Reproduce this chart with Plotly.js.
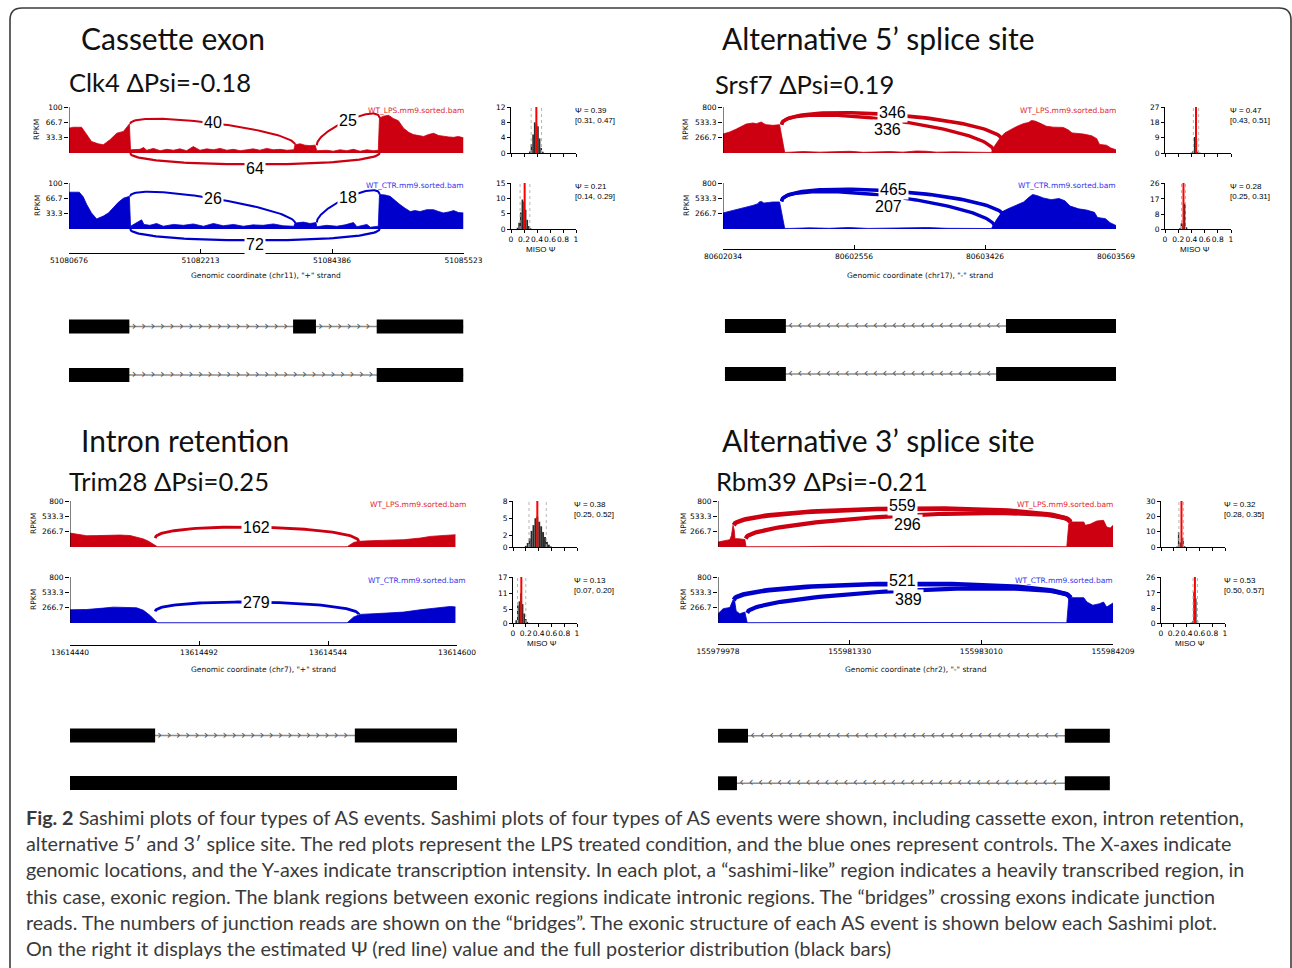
<!DOCTYPE html>
<html><head><meta charset="utf-8">
<script src="https://cdn.plot.ly/plotly-3.0.1.min.js"></script>
<style>html,body{margin:0;padding:0;background:#fff;}#chart{width:1292px;height:968px;}</style>
</head><body><div id="chart"></div>
<script>
// ---------------- DATA ----------------
const eventTypes = ["Cassette exon", "Alternative 5\u2019 splice site", "Intron retention", "Alternative 3\u2019 splice site"];
const geneNames = ["Clk4", "Srsf7", "Trim28", "Rbm39"];
const deltaPsi = ["-0.18", "0.19", "0.25", "-0.21"];
const strands = ["+", "-", "+", "-"];
const chroms = ["chr11", "chr17", "chr7", "chr2"];
const coordTicks = [
  ["51080676", "51082213", "51084386", "51085523"],
  ["80602034", "80602556", "80603426", "80603569"],
  ["13614440", "13614492", "13614544", "13614600"],
  ["155979978", "155981330", "155983010", "155984209"]
];
const rpkmMax = [100, 800, 800, 800];
const rpkmTickText = [["33.3", "66.7", "100"], ["266.7", "533.3", "800"], ["266.7", "533.3", "800"], ["266.7", "533.3", "800"]];
const bamNames = ["WT_LPS.mm9.sorted.bam", "WT_CTR.mm9.sorted.bam"];

// coverage (x in plot units 0-100, y in RPKM)
const A_lps_covX = [0,1.1,3.2,4.5,5.7,7.4,8.7,10.4,12.1,13.8,15.3,15.6,18.0,18.9,19.7,21.4,23.1,24.8,26.5,28.1,29.8,31.5,33.2,34.9,36.6,38.3,40.0,41.7,43.4,45.1,46.7,48.4,50.1,51.8,53.5,55.2,57.0,57.3,58.6,59.8,61.1,62.4,62.8,65.3,67.0,68.7,70.4,72.1,73.8,75.5,77.2,78.4,78.7,79.7,81.0,82.2,83.5,84.8,86.1,87.3,88.6,89.9,91.1,92.4,93.7,94.9,96.2,97.5,98.7,100];
const A_lps_covY = [54,56,56,40,25,20,18,29,43,47,63,7,8,12,6,10,5,8,6,9,5,14,6,9,7,10,6,8,5,7,9,6,10,7,8,6,7,18,20,17,16,17,5,6,4,7,5,8,4,7,5,6,76,80,82,75,70,54,45,40,38,36,40,43,38,36,35,34,36,33];
const A_ctr_covX = [0,2.6,3.6,4.5,5.7,7.0,8.7,10.0,11.2,12.5,13.8,15.3,15.6,18.4,19.0,20.5,22.2,23.9,26.5,29.0,31.5,34.1,36.6,39.1,41.7,44.2,46.7,49.2,51.8,54.3,57.0,57.3,59.4,61.1,62.6,62.8,65.3,67.9,70.0,72.1,73.0,75.5,76.4,78.4,78.7,80.1,81.4,82.6,83.9,85.2,86.5,87.7,89.0,90.7,92.4,93.7,94.9,96.2,97.5,98.7,100];
const A_ctr_covY = [80,80,70,53,35,22,28,35,46,58,67,71,6,20,10,8,12,6,10,8,11,6,12,7,10,6,9,8,11,7,6,13,15,12,14,5,8,6,9,14,5,10,4,6,75,74,71,62,53,45,38,40,38,42,42,38,35,37,40,36,35];
const B_lps_covX = [0,1.7,3.4,4.7,5.9,7.6,8.5,9.2,9.8,10.4,11.0,12.7,14.4,15.7,17.0,20.4,24.6,28.9,32.3,35.7,39.0,42.4,45.8,49.2,51.8,54.3,58.6,62.8,66.2,68.3,69.1,70.5,71.7,73.0,74.7,76.4,77.7,78.5,79.4,80.6,82.3,84.0,86.6,87.9,88.8,91.7,93.8,95.1,95.8,97.6,98.6,100];
const B_lps_covY = [330,365,417,460,504,522,510,528,539,510,493,481,493,10,15,25,15,20,30,12,18,25,15,35,30,15,20,12,18,10,120,260,350,400,460,510,530,565,555,520,465,450,445,400,350,330,300,250,150,135,90,55];
const B_ctr_covX = [0,2.5,5.9,7.6,8.9,9.2,9.8,10.4,11.5,12.7,14.4,15.7,17.0,22.0,27.0,32.0,37.0,42.0,48.5,52.0,57.0,62.0,66.0,68.3,69.5,71.0,72.5,74.5,76.5,78.0,78.8,80.0,81.5,83.5,85.5,87.0,88.3,90.5,92.5,94.5,95.3,97.3,98.5,100];
const B_ctr_covY = [280,320,380,410,440,470,480,450,460,470,470,10,10,20,12,25,10,15,30,25,12,15,10,8,150,300,350,410,470,560,600,580,540,510,530,490,400,350,330,290,200,180,110,60];
const C_lps_covX = [0,1.7,4.3,6.9,9.5,12.9,15.5,17.7,19.0,20.3,21.6,22.6,30,40,50,60,70,71.6,73.3,74.6,77.6,81.9,86.2,90.5,93.1,96.6,99.6];
const C_lps_covY = [242,225,196,198,207,208,200,170,140,100,40,4,4,4,4,4,4,4,80,98,109,115,127,155,184,201,213];
const C_ctr_covX = [0,4.3,8.6,11.2,17.2,19.0,20.7,22.6,30,40,50,60,70,71.6,73.3,75.0,81.9,86.2,90.5,94.8,98.3,99.6];
const C_ctr_covY = [230,235,259,276,265,220,132,4,4,4,4,4,4,4,104,150,173,190,230,265,288,280];
const D_lps_covX = [0,1.7,3.0,3.4,3.8,4.1,4.3,5.1,6.3,6.8,7.1,12,20,28,36,44,52,60,68,76,84,88.3,88.8,89.2,92.6,93.0,94.3,95.9,97.6,98.4,99.3,100];
const D_lps_covY = [87,116,128,200,377,300,145,145,140,130,5,10,6,12,8,10,7,12,6,10,8,5,400,435,435,377,400,452,464,348,330,377];
const D_ctr_covX = [0,1.3,3.0,3.4,3.8,4.2,4.6,5.5,6.8,7.4,12,20,28,36,44,52,60,68,76,84,88.3,88.8,89.2,92.6,93.4,94.9,96.6,97.6,98.4,100];
const D_ctr_covY = [162,249,270,330,400,390,209,160,190,5,8,6,10,7,12,6,9,8,10,6,5,420,440,440,365,310,336,365,278,348];

// junctions: start, end (plot units), read count, coverage height at each end, drawn below?
const A_lps_jFrom = [15.5, 62.8, 15.5], A_lps_jTo = [57.3, 78.7, 78.7], A_lps_jCount = [40, 25, 64], A_lps_jYFrom = [63, 17, 0], A_lps_jYTo = [18, 76, 0], A_lps_jBelow = [0, 0, 1];
const A_ctr_jFrom = [15.5, 62.8, 15.5], A_ctr_jTo = [57.3, 78.7, 78.7], A_ctr_jCount = [26, 18, 72], A_ctr_jYFrom = [71, 14, 0], A_ctr_jYTo = [13, 75, 0], A_ctr_jBelow = [0, 0, 1];
const B_lps_jFrom = [14.9, 14.9], B_lps_jTo = [71.3, 68.9], B_lps_jCount = [346, 336], B_lps_jYFrom = [493, 493], B_lps_jYTo = [203, 29], B_lps_jBelow = [0, 0];
const B_ctr_jFrom = [14.9, 14.9], B_ctr_jTo = [71.7, 69.2], B_ctr_jCount = [465, 207], B_ctr_jYFrom = [481, 481], B_ctr_jYTo = [203, 29], B_ctr_jBelow = [0, 0];
const C_lps_jFrom = [22.0], C_lps_jTo = [74.6], C_lps_jCount = [162], C_lps_jYFrom = [155], C_lps_jYTo = [98], C_lps_jBelow = [0];
const C_ctr_jFrom = [22.0], C_ctr_jTo = [74.6], C_ctr_jCount = [279], C_ctr_jYFrom = [201], C_ctr_jYTo = [150], C_ctr_jBelow = [0];
const D_lps_jFrom = [4.0, 7.0], D_lps_jTo = [89.2, 89.2], D_lps_jCount = [559, 296], D_lps_jYFrom = [377, 145], D_lps_jYTo = [435, 435], D_lps_jBelow = [0, 0];
const D_ctr_jFrom = [4.0, 7.4], D_ctr_jTo = [89.2, 89.2], D_ctr_jCount = [521, 389], D_ctr_jYFrom = [400, 174], D_ctr_jYTo = [440, 440], D_ctr_jBelow = [0, 0];

// MISO posterior
const psiLps = [0.39, 0.47, 0.38, 0.32], ciLoLps = [0.31, 0.43, 0.25, 0.28], ciHiLps = [0.47, 0.51, 0.52, 0.35];
const psiCtr = [0.21, 0.28, 0.13, 0.53], ciLoCtr = [0.14, 0.25, 0.07, 0.50], ciHiCtr = [0.29, 0.31, 0.20, 0.57];
const histMaxLps = [12, 27, 8, 30], histTicksLps = [[0,4,8,12],[0,9,18,27],[0,2,5,8],[0,10,20,30]];
const histMaxCtr = [15, 26, 17, 26], histTicksCtr = [[0,5,10,15],[0,8,17,26],[0,5,11,17],[0,8,17,26]];
const A_lps_histX = [0.29,0.315,0.34,0.365,0.39,0.415,0.44,0.465,0.49], A_lps_histY = [0.4,2.3,4.8,8.0,7.6,7.0,3.8,1.3,0.3];
const A_ctr_histX = [0.1,0.125,0.15,0.175,0.2,0.225,0.25,0.275,0.3], A_ctr_histY = [0.4,2.0,5.4,9.6,9.0,6.3,3.0,1.0,0.3];
const B_lps_histX = [0.4,0.425,0.45,0.475,0.5,0.525], B_lps_histY = [0.2,1.0,9.4,8.4,0.7,0.2];
const B_ctr_histX = [0.225,0.25,0.275,0.3,0.325], B_ctr_histY = [0.4,3.2,2.5,14.3,1.0];
const C_lps_histX = [0.2,0.23,0.26,0.29,0.32,0.35,0.38,0.41,0.44,0.47,0.5,0.53,0.56,0.59], C_lps_histY = [0.2,0.7,1.5,2.8,3.8,5.0,5.3,4.4,3.6,2.6,1.75,0.9,0.4,0.1];
const C_ctr_histX = [0.05,0.075,0.1,0.125,0.15,0.175,0.2,0.225], C_ctr_histY = [1.0,6.5,8.0,11.0,7.0,3.5,1.5,0.4];
const D_lps_histX = [0.25,0.275,0.3,0.345,0.37], D_lps_histY = [0.3,9.8,3.0,6.1,0.5];
const D_ctr_histX = [0.47,0.495,0.515,0.545,0.57], D_ctr_histY = [0.3,1.0,17.7,13.9,1.5];

// exon structures (plot units), two isoforms per event
const isoA = [[[-0.6,15.3],[56.8,62.6],[78.0,100]], [[-0.6,15.3],[78.0,100]]];
const isoB = [[[0.5,16.0],[72.0,101.5]], [[0.5,16.0],[69.5,101.5]]];
const isoC = [[[-0.8,22.0],[73.6,101.8]], [[-0.8,101.8]]];
const isoD = [[[0,7.6],[87.8,99.2]], [[0,4.8],[87.8,99.2]]];

const captionLead = "Fig. 2";
const captionLines = [
  " Sashimi plots of four types of AS events. Sashimi plots of four types of AS events were shown, including cassette exon, intron retention,",
  "alternative 5\u2032 and 3\u2032 splice site. The red plots represent the LPS treated condition, and the blue ones represent controls. The X-axes indicate",
  "genomic locations, and the Y-axes indicate transcription intensity. In each plot, a \u201csashimi-like\u201d region indicates a heavily transcribed region, in",
  "this case, exonic region. The blank regions between exonic regions indicate intronic regions. The \u201cbridges\u201d crossing exons indicate junction",
  "reads. The numbers of junction reads are shown on the \u201cbridges\u201d. The exonic structure of each AS event is shown below each Sashimi plot.",
  "On the right it displays the estimated \u03a8 (red line) value and the full posterior distribution (black bars)"
];

// ---------------- LAYOUT / STYLE ----------------
const W = 1292, H = 968;
const fx = p => p / W, fy = p => 1 - p / H;
const COL = {lps: '#cc0010', ctr: '#0000cc'};
const BAMCOL = {lps: '#e3262e', ctr: '#3535ee'};
const LAY = [
  {x0:69, x1:463.5, lpsTop:107, lpsBase:153, ctrTop:183, ctrBase:229, lpsDom:[94,184], ctrDom:[170,251], axisY:252.5, titleY:275, rpkmX:37, bamX:465, hx:[511,576], hTextX:574, geneDom:[302.25,399.25], headX:82, headY:38, subX:70, subY:82},
  {x0:723, x1:1116, lpsTop:107, lpsBase:153, ctrTop:183, ctrBase:229, lpsDom:[94,170], ctrDom:[170,245], axisY:249, titleY:275, rpkmX:686, bamX:1117, hx:[1165,1231], hTextX:1229, geneDom:[302,398], headX:723, headY:38, subX:716, subY:84},
  {x0:70, x1:457, lpsTop:501, lpsBase:547, ctrTop:577, ctrBase:623, lpsDom:[488,560], ctrDom:[564,640], axisY:645, titleY:669, rpkmX:33, bamX:467, hx:[513,577], hTextX:573, geneDom:[711.75,806.75], headX:82, headY:440, subX:70, subY:481},
  {x0:718, x1:1113, lpsTop:501, lpsBase:547, ctrTop:577, ctrBase:623, lpsDom:[488,560], ctrDom:[564,640], axisY:644, titleY:669, rpkmX:683, bamX:1114, hx:[1161,1225], hTextX:1223, geneDom:[712,807], headX:723, headY:440, subX:717, subY:481}
];
const JSTYLE = [
  {h:{lps:33, ctr:33}, lw:[2,2,2.2], dy:[0,0,-4]},
  {h:{lps:425, ctr:425}, lw:[3.6,3.4], dy:[2,-10]},
  {h:{lps:291, ctr:250}, lw:[2.8], dy:[0]},
  {h:{lps:348, ctr:348}, lw:[4.6,4.2], dy:[3,-9]}
];
const BINW = [{lps:0.025, ctr:0.025}, {lps:0.025, ctr:0.025}, {lps:0.03, ctr:0.025}, {lps:0.022, ctr:0.022}];

const TRACKS = [
  {lps:{covX:A_lps_covX,covY:A_lps_covY,jf:A_lps_jFrom,jt:A_lps_jTo,jc:A_lps_jCount,y1:A_lps_jYFrom,y2:A_lps_jYTo,jb:A_lps_jBelow,hx:A_lps_histX,hy:A_lps_histY},
   ctr:{covX:A_ctr_covX,covY:A_ctr_covY,jf:A_ctr_jFrom,jt:A_ctr_jTo,jc:A_ctr_jCount,y1:A_ctr_jYFrom,y2:A_ctr_jYTo,jb:A_ctr_jBelow,hx:A_ctr_histX,hy:A_ctr_histY}},
  {lps:{covX:B_lps_covX,covY:B_lps_covY,jf:B_lps_jFrom,jt:B_lps_jTo,jc:B_lps_jCount,y1:B_lps_jYFrom,y2:B_lps_jYTo,jb:B_lps_jBelow,hx:B_lps_histX,hy:B_lps_histY},
   ctr:{covX:B_ctr_covX,covY:B_ctr_covY,jf:B_ctr_jFrom,jt:B_ctr_jTo,jc:B_ctr_jCount,y1:B_ctr_jYFrom,y2:B_ctr_jYTo,jb:B_ctr_jBelow,hx:B_ctr_histX,hy:B_ctr_histY}},
  {lps:{covX:C_lps_covX,covY:C_lps_covY,jf:C_lps_jFrom,jt:C_lps_jTo,jc:C_lps_jCount,y1:C_lps_jYFrom,y2:C_lps_jYTo,jb:C_lps_jBelow,hx:C_lps_histX,hy:C_lps_histY},
   ctr:{covX:C_ctr_covX,covY:C_ctr_covY,jf:C_ctr_jFrom,jt:C_ctr_jTo,jc:C_ctr_jCount,y1:C_ctr_jYFrom,y2:C_ctr_jYTo,jb:C_ctr_jBelow,hx:C_ctr_histX,hy:C_ctr_histY}},
  {lps:{covX:D_lps_covX,covY:D_lps_covY,jf:D_lps_jFrom,jt:D_lps_jTo,jc:D_lps_jCount,y1:D_lps_jYFrom,y2:D_lps_jYTo,jb:D_lps_jBelow,hx:D_lps_histX,hy:D_lps_histY},
   ctr:{covX:D_ctr_covX,covY:D_ctr_covY,jf:D_ctr_jFrom,jt:D_ctr_jTo,jc:D_ctr_jCount,y1:D_ctr_jYFrom,y2:D_ctr_jYTo,jb:D_ctr_jBelow,hx:D_ctr_histX,hy:D_ctr_histY}}
];
const ISOS = [isoA, isoB, isoC, isoD];
const HIST = {
  lps:{psi:psiLps, lo:ciLoLps, hi:ciHiLps, max:histMaxLps, ticks:histTicksLps},
  ctr:{psi:psiCtr, lo:ciLoCtr, hi:ciHiCtr, max:histMaxCtr, ticks:histTicksCtr}
};

// ---------------- BUILD ----------------
function fitSize(text, family, target, weight) {
  const c = document.createElement('canvas').getContext('2d');
  c.font = (weight || 'normal') + ' 40px ' + family;
  const w = c.measureText(text).width;
  return w > 0 ? 40 * target / w : 20;
}
const xN = n => n === 1 ? 'x' : 'x' + n, xK = n => n === 1 ? 'xaxis' : 'xaxis' + n;
const yN = n => n === 1 ? 'y' : 'y' + n, yK = n => n === 1 ? 'yaxis' : 'yaxis' + n;
const bez = (p, t) => { const u = 1 - t; return u*u*u*p[0] + 3*u*u*t*p[1] + 3*u*t*t*p[2] + t*t*t*p[3]; };
function trackRange(top, base, vmax, dTop, dBot) {
  const ppu = (base - top) / vmax;
  return [-(dBot - base) / ppu, vmax + (top - dTop) / ppu];
}

const traces = [], annotations = [], shapes = [];
const layout = {
  width: W, height: H, margin: {l:0, r:0, t:0, b:0},
  paper_bgcolor: '#ffffff', plot_bgcolor: 'rgba(0,0,0,0)', showlegend: false,
  font: {family: 'DejaVu Sans, sans-serif', color: '#000', size: 8},
  annotations: annotations, shapes: shapes
};
const small = {family: 'DejaVu Sans, sans-serif', size: 7.5, color: '#111'};
const psiFont = {family: 'Liberation Sans, Arial, sans-serif', size: 8, color: '#000'};
const TITLE_FONT = 'Lato, "Open Sans", sans-serif';
const headSize = fitSize(eventTypes[1], 'Lato', 313);
const subSize = fitSize(geneNames[3] + ' \u0394Psi=' + deltaPsi[3], 'Lato', 212);
function paperText(x, y, text, font, xa, ya, extra) {
  return Object.assign({xref:'paper', yref:'paper', x: fx(x), y: fy(y), xanchor: xa || 'center', yanchor: ya || 'middle',
    showarrow:false, text: text, font: font, borderpad: 0}, extra || {});
}

for (let k = 0; k < 4; k++) {
  const L = LAY[k];
  const nxS = 1 + 3*k, nyG = 3 + 5*k;
  const xs = xN(nxS);
  layout[xK(nxS)] = {
    domain: [fx(L.x0), fx(L.x1)], range: [0, 100], anchor: 'free', position: fy(L.axisY),
    showline: true, linecolor: '#000', linewidth: 1, ticks: 'inside', ticklen: 4, tickcolor: '#000',
    tickmode: 'array', tickvals: [0, 100/3, 200/3, 100], ticktext: coordTicks[k], tickangle: 0,
    tickfont: {size: 7.5, color: '#000'}, showgrid: false, zeroline: false, fixedrange: true
  };
  annotations.push(paperText((L.x0 + L.x1)/2, L.titleY, 'Genomic coordinate (' + chroms[k] + '), "' + strands[k] + '" strand', small));
  annotations.push(paperText(L.headX - 2, L.headY, eventTypes[k], {family: TITLE_FONT, size: headSize, color: '#111'}, 'left'));
  annotations.push(paperText(L.subX - 2, L.subY, geneNames[k] + ' \u0394Psi=' + deltaPsi[k], {family: TITLE_FONT, size: subSize, color: '#111'}, 'left'));

  ['lps', 'ctr'].forEach((s, si) => {
    const tr = TRACKS[k][s];
    const top = L[s + 'Top'], base = L[s + 'Base'], dom = L[s + 'Dom'];
    const vmax = rpkmMax[k];
    const ny = (si === 0 ? 1 : 2) + 5*k;
    const ys = yN(ny);
    layout[yK(ny)] = {
      domain: [fy(dom[1]), fy(dom[0])], range: trackRange(top, base, vmax, dom[0], dom[1]), anchor: xs,
      showline: false, ticks: 'outside', ticklen: 4, tickcolor: '#000', tickmode: 'array',
      tickvals: [vmax/3, 2*vmax/3, vmax], ticktext: rpkmTickText[k], tickfont: {size: 7.5, color: '#000'},
      showgrid: false, zeroline: false, fixedrange: true
    };
    traces.push({type:'scatter', mode:'lines', x: tr.covX, y: tr.covY, xaxis: xs, yaxis: ys,
      fill: 'tozeroy', fillcolor: COL[s], line: {color: COL[s], width: 0.8}, hoverinfo: 'skip'});
    shapes.push({type:'line', xref: xs, yref: ys, x0: 0, x1: 0, y0: 0, y1: vmax, line: {color:'#000', width: 1}});
    // junction arcs
    const S = JSTYLE[k];
    for (let j = 0; j < tr.jf.length; j++) {
      const h = S.h[s];
      const px = [tr.jf[j], tr.jf[j], tr.jt[j], tr.jt[j]];
      const py = tr.jb[j] ? [0, -h, -h, 0] : [tr.y1[j], tr.y1[j] + h, tr.y2[j] + h, tr.y2[j]];
      const ax = [], ay = [];
      for (let i = 0; i <= 80; i++) { const t = i / 80; ax.push(bez(px, t)); ay.push(bez(py, t)); }
      traces.push({type:'scatter', mode:'lines', x: ax, y: ay, xaxis: xs, yaxis: ys,
        line: {color: COL[s], width: S.lw[j]}, hoverinfo: 'skip'});
      annotations.push({xref: xs, yref: ys, x: bez(px, 0.5), y: bez(py, 0.5), yshift: S.dy[j], showarrow: false,
        xanchor:'center', yanchor:'middle', text: String(tr.jc[j]), bgcolor: '#ffffff', borderpad: 1,
        font: {family: 'Liberation Sans, Arial, sans-serif', size: 16, color: '#000'}});
    }
    annotations.push(paperText(L.bamX, top + 3, bamNames[si], {family: 'DejaVu Sans, sans-serif', size: 7.5, color: BAMCOL[s]}, 'right'));
    annotations.push(paperText(L.rpkmX, (top + base)/2, 'RPKM', small, 'center', 'middle', {textangle: -90}));

    // histogram
    const nxH = (si === 0 ? 2 : 3) + 3*k, nyH = (si === 0 ? 4 : 5) + 5*k;
    const hxs = xN(nxH), hys = yN(nyH);
    const Hd = HIST[s];
    layout[xK(nxH)] = {
      domain: [fx(L.hx[0]), fx(L.hx[1])], range: [0, 1], anchor: hys, showline: true, linecolor:'#000', linewidth: 1,
      ticks: 'outside', ticklen: 3, tickcolor:'#000', tickmode:'array', tickvals: [0, 0.2, 0.4, 0.6, 0.8, 1],
      ticktext: ['0', '0.2', '0.4', '0.6', '0.8', '1'], showticklabels: si === 1, tickangle: 0,
      tickfont: {size: 7.5, color:'#000'}, showgrid: false, zeroline: false, fixedrange: true
    };
    layout[yK(nyH)] = {
      domain: [fy(base), fy(top)], range: [0, Hd.max[k]], anchor: hxs, showline: true, linecolor:'#000', linewidth: 1,
      ticks: 'outside', ticklen: 3, tickcolor:'#000', tickmode:'array', tickvals: Hd.ticks[k],
      tickfont: {size: 7.5, color:'#000'}, showgrid: false, zeroline: false, fixedrange: true
    };
    traces.push({type:'scatter', mode:'lines', x: [Hd.lo[k], Hd.lo[k], null, Hd.hi[k], Hd.hi[k]], y: [0, Hd.max[k], null, 0, Hd.max[k]],
      xaxis: hxs, yaxis: hys, line: {color:'#b5b5b5', width: 1, dash: 'dot'}, hoverinfo:'skip'});
    traces.push({type:'bar', x: tr.hx, y: tr.hy, width: BINW[k][s], xaxis: hxs, yaxis: hys,
      marker: {color: '#2b2b2b', line: {width: 0}}, hoverinfo: 'skip'});
    traces.push({type:'scatter', mode:'lines', x: [Hd.psi[k], Hd.psi[k]], y: [0, Hd.max[k]], xaxis: hxs, yaxis: hys,
      line: {color:'#ff0000', width: 2}, hoverinfo:'skip'});
    annotations.push(paperText(L.hTextX, top - 2,
      '\u03a8 = ' + Hd.psi[k].toFixed(2) + '<br>[' + Hd.lo[k].toFixed(2) + ', ' + Hd.hi[k].toFixed(2) + ']',
      psiFont, 'left', 'top', {align: 'left'}));
    if (si === 1) {
      annotations.push(paperText((L.hx[0] + L.hx[1])/2 - 3, base + 20, 'MISO \u03a8', psiFont));
    }
  });

  // gene structure
  const gys = yN(nyG);
  layout[yK(nyG)] = {domain: [fy(L.geneDom[1]), fy(L.geneDom[0])], range: [0, 2], anchor: xs, visible: false, fixedrange: true};
  ISOS[k].forEach((iso, r) => {
    const yc = r === 0 ? 1.5 : 0.5;
    if (iso.length > 1) {
      traces.push({type:'scatter', mode:'lines', x: [iso[0][0], iso[iso.length-1][1]], y: [yc, yc], xaxis: xs, yaxis: gys,
        line: {color:'#8c8c8c', width: 1.6}, hoverinfo:'skip'});
      const cx = [], cy = [];
      for (let e = 0; e < iso.length - 1; e++) {
        for (let p = iso[e][1] + 1.2; p < iso[e+1][0] - 0.6; p += 2.4) { cx.push(p); cy.push(yc); }
      }
      traces.push({type:'scatter', mode:'text', x: cx, y: cy, xaxis: xs, yaxis: gys, text: cx.map(() => strands[k] === '+' ? '\u203a' : '\u2039'),
        textposition: 'middle center', textfont: {family:'DejaVu Sans, sans-serif', size: 12, color:'#555'}, hoverinfo:'skip'});
    }
    iso.forEach(ex => {
      shapes.push({type:'rect', xref: xs, yref: gys, x0: ex[0], x1: ex[1], y0: yc - 0.146, y1: yc + 0.146,
        fillcolor: '#000', line: {width: 0}});
    });
  });
}

// border
(function () {
  const x0 = fx(10), x1 = fx(1291), yT = fy(8), yB = fy(990), rx = 12 / W, ry = 12 / H;
  shapes.push({type:'path', xref:'paper', yref:'paper',
    path: `M ${x0},${yB} L ${x0},${yT - ry} Q ${x0},${yT} ${x0 + rx},${yT} L ${x1 - rx},${yT} Q ${x1},${yT} ${x1},${yT - ry} L ${x1},${yB}`,
    line: {color:'#3c3c3c', width: 1.6}});
})();

// caption
const capSize = fitSize(captionLead + captionLines[0], 'Lato', 1223);
captionLines.forEach((line, i) => {
  annotations.push(paperText(25, 817 + 26.2 * i, (i === 0 ? '<b>' + captionLead + '</b>' : '') + line,
    {family: TITLE_FONT, size: capSize, color: '#3a3a3a'}, 'left'));
});

Plotly.newPlot('chart', traces, layout, {staticPlot: true, displayModeBar: false});
</script></body></html>
